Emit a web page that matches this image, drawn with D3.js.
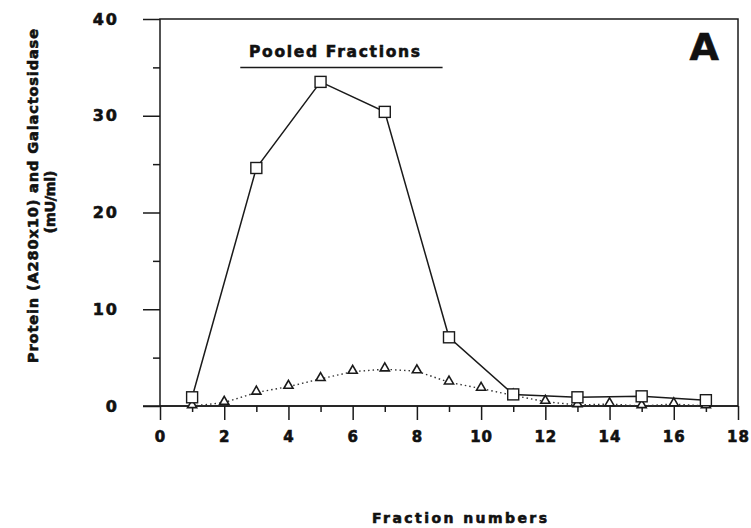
<!DOCTYPE html>
<html>
<head>
<meta charset="utf-8">
<script src="https://cdn.jsdelivr.net/npm/d3@7"></script>
<style>
  body { margin: 0; background: #fff; }
  text { font-family: "DejaVu Sans", sans-serif; font-weight: bold; fill: #111; stroke: #111; stroke-width: 0.6px; }
</style>
</head>
<body>
<div id="chart"></div>
<script>
(function () {

  // squares, solid line
  const proteinFractions = [1, 3, 5, 7, 9, 11, 13, 15, 17];
  const proteinValues = [0.9, 24.6, 33.5, 30.4, 7.1, 1.2, 0.9, 1.0, 0.6];

  // triangles, dotted line
  const galFractions = [1, 2, 3, 4, 5, 6, 7, 8, 9, 10, 11, 12, 13, 14, 15, 16, 17];
  const galValues = [0, 0.35, 1.4, 2.0, 2.8, 3.55, 3.8, 3.6, 2.45, 1.8, 1.1, 0.45, 0.1, 0.2, 0.0, 0.2, 0.0];

  const xTicks = [0, 2, 4, 6, 8, 10, 12, 14, 16, 18];
  const yTicks = [0, 10, 20, 30, 40];
  const pooledRange = [2.5, 8.8];

  const width = 751,
    height = 528,
    margin = { top: 19, right: 13, bottom: 122, left: 160 };

  const x = d3.scaleLinear().domain([0, 18]).range([margin.left, width - margin.right]);
  const y = d3.scaleLinear().domain([0, 40]).range([height - margin.bottom, margin.top]);

  const svg = d3
    .select('#chart')
    .append('svg')
    .attr('width', width)
    .attr('height', height);

  svg.append('rect').attr('width', width).attr('height', height).attr('fill', '#fff');

  const ink = '#1a1a1a';

  // minor ticks
  svg.append('g')
    .attr('transform', `translate(0, ${y(0)})`)
    .call(d3.axisBottom(x).tickValues(d3.range(1, 18, 2)).tickSize(6).tickFormat(''))
    .call(g => g.select('.domain').remove());

  svg.append('g')
    .attr('transform', `translate(${x(0)}, 0)`)
    .call(d3.axisLeft(y).tickValues([5, 15, 25, 35]).tickSize(7).tickFormat(''))
    .call(g => g.select('.domain').remove());

  // major ticks + labels
  svg.append('g')
    .attr('class', 'x axis')
    .attr('transform', `translate(0, ${y(0)})`)
    .call(d3.axisBottom(x).tickValues(xTicks).tickSize(14).tickPadding(11))
    .call(g => g.select('.domain').remove())
    .selectAll('text')
    .attr('font-size', 15)
    .attr('font-family', '"DejaVu Sans", sans-serif')
    .attr('font-weight', 'bold')
    .style('letter-spacing', '1px')
    .attr('fill', ink);

  svg.append('g')
    .attr('class', 'y axis')
    .attr('transform', `translate(${x(0)}, 0)`)
    .call(d3.axisLeft(y).tickValues(yTicks).tickSize(17).tickPadding(24))
    .call(g => g.select('.domain').remove())
    .selectAll('text')
    .attr('font-size', 16)
    .attr('font-family', '"DejaVu Sans", sans-serif')
    .attr('font-weight', 'bold')
    .style('letter-spacing', '2px')
    .attr('fill', ink);

  svg.selectAll('.axis line, .tick line').attr('stroke', ink).attr('stroke-width', 1.5);

  // frame
  svg.append('rect')
    .attr('x', x(0))
    .attr('y', y(40))
    .attr('width', x(18) - x(0))
    .attr('height', y(0) - y(40))
    .attr('fill', 'none')
    .attr('stroke', ink)
    .attr('stroke-width', 1.5);

  svg.append('line')
    .attr('x1', x(0) - 17).attr('x2', x(18))
    .attr('y1', y(0)).attr('y2', y(0))
    .attr('stroke', ink).attr('stroke-width', 1.5);

  // dotted galactosidase line
  const gal = galFractions.map((f, i) => [f, galValues[i]]);
  const prot = proteinFractions.map((f, i) => [f, proteinValues[i]]);
  const line = d3.line().x(d => x(d[0])).y(d => y(d[1]));

  svg.append('path')
    .datum(gal)
    .attr('d', line)
    .attr('fill', 'none')
    .attr('stroke', '#333')
    .attr('stroke-width', 1.4)
    .attr('stroke-dasharray', '1.5,3');

  const tri = d3.symbol().type(d3.symbolTriangle).size(36);
  svg.selectAll('.tri')
    .data(gal)
    .enter()
    .append('path')
    .attr('class', 'tri')
    .attr('d', tri)
    .attr('transform', d => `translate(${x(d[0])}, ${y(d[1]) - 1})`)
    .attr('fill', '#fff')
    .attr('stroke', ink)
    .attr('stroke-width', 1.6);

  // solid protein line
  svg.append('path')
    .datum(prot)
    .attr('d', line)
    .attr('fill', 'none')
    .attr('stroke', ink)
    .attr('stroke-width', 1.5);

  const sq = 11;
  svg.selectAll('.sq')
    .data(prot)
    .enter()
    .append('rect')
    .attr('class', 'sq')
    .attr('x', d => x(d[0]) - sq / 2)
    .attr('y', d => y(d[1]) - sq / 2)
    .attr('width', sq)
    .attr('height', sq)
    .attr('fill', '#fff')
    .attr('stroke', ink)
    .attr('stroke-width', 1.4);

  // pooled fractions annotation
  svg.append('line')
    .attr('x1', x(pooledRange[0])).attr('x2', x(pooledRange[1]))
    .attr('y1', 67.5).attr('y2', 67.5)
    .attr('stroke', ink).attr('stroke-width', 1.5);

  svg.append('text')
    .attr('x', 249)
    .attr('y', 57)
    .attr('font-size', 15.5)
    .attr('textLength', 171)
    .attr('lengthAdjust', 'spacing')
    .text('Pooled Fractions');

  svg.append('text')
    .attr('x', 719)
    .attr('y', 60)
    .attr('text-anchor', 'end')
    .attr('font-size', 38)
    .attr('font-family', '"Liberation Sans", sans-serif')
    .text('A');

  // axis titles
  svg.append('text')
    .attr('x', 372)
    .attr('y', 523)
    .attr('font-size', 14)
    .attr('textLength', 175)
    .attr('lengthAdjust', 'spacing')
    .text('Fraction numbers');

  svg.append('text')
    .attr('transform', 'translate(38, 196) rotate(-90)')
    .attr('text-anchor', 'middle')
    .attr('font-size', 14.5)
    .attr('textLength', 334)
    .attr('lengthAdjust', 'spacing')
    .text('Protein (A280x10) and Galactosidase');

  svg.append('text')
    .attr('transform', 'translate(55, 202) rotate(-90)')
    .attr('text-anchor', 'middle')
    .attr('font-size', 14.5)
    .attr('textLength', 63)
    .attr('lengthAdjust', 'spacing')
    .text('(mU/ml)');

})();
</script>
</body>
</html>
